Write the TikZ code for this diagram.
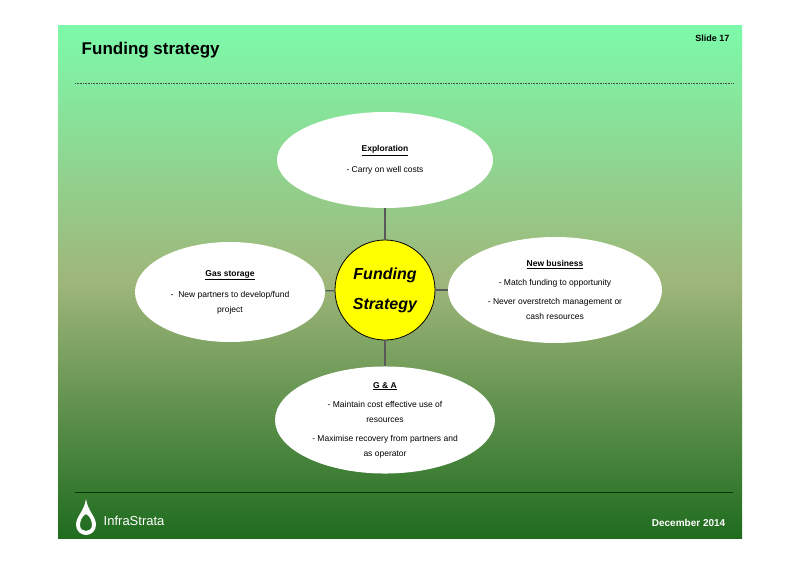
\documentclass[tikz,border=0pt]{standalone}
\usepackage{fontspec}
\setmainfont{Liberation Sans}
\usetikzlibrary{positioning,shapes.geometric}
\definecolor{slidetop}{HTML}{7CFAAA}
\definecolor{slidemid}{HTML}{9FB67A}
\definecolor{slidebot}{HTML}{1F6C1E}
\definecolor{fundyellow}{HTML}{FFFF00}
\begin{document}
\begin{tikzpicture}[x=1pt,y=-1pt,thick,
      topic node/.style={ellipse,fill=white,draw=none,align=center,inner sep=0pt,
        font=\fontsize{8.5}{17}\selectfont},
      centre node/.style={circle,draw,fill=fundyellow,minimum size=100pt,align=center,
        font=\fontsize{16}{30}\selectfont\bfseries\itshape},
      link/.style={draw=black!65,line width=1.2pt}]
    \useasboundingbox (0,0) rectangle (800,565);
    \fill[white] (0,0) rectangle (800,565);
    % slide background
    \shade[top color=slidetop,bottom color=slidebot,middle color=slidemid] (58,25) rectangle (742,538);
    \node[anchor=west,font=\fontsize{17}{19}\selectfont\bfseries] (title) at (78,50) {Funding strategy};
    \node[anchor=east,font=\fontsize{9}{10}\selectfont\bfseries] (slide) at (733,38) {Slide 17};
    \draw[densely dotted,line width=0.6pt,black!70] (75,83) -- (733,83);

    % topics
    \node[centre node] (c) at (385,290) {Funding\\Strategy};
    \node[topic node,minimum width=216pt,minimum height=96pt] (1) at (385,160)
      {\underline{\bfseries Exploration}\\[4pt]- Carry on well costs};
    \node[topic node,minimum width=190pt,minimum height=100pt] (2) at (230,292)
      {\underline{\bfseries Gas storage}\\[4pt]- \ New partners to develop/fund\\[-2pt]project};
    \node[topic node,minimum width=214pt,minimum height=106pt] (3) at (555,290)
      {\underline{\bfseries New business}\\[2pt]- Match funding to opportunity\\[2pt]- Never overstretch management or\\[-2pt]cash resources};
    \node[topic node,minimum width=220pt,minimum height=96pt] (4) at (385,420)
      {\underline{\bfseries G \& A}\\[2pt]- Maintain cost effective use of\\[-2pt]resources\\[2pt]- Maximise recovery from partners and\\[-2pt]as operator};

    \path[link]
        (c) edge (1)
        (c) edge (2)
        (c) edge (3)
        (c) edge (4)
    ;

    % footer
    \draw[line width=0.8pt,black!80!green] (75,492) -- (733,492);
    \fill[white,even odd rule] (86,499) .. controls (88,512) and (96,516) .. (96,525)
      .. controls (96,531) and (91,535) .. (86,535) .. controls (81,535) and (76,531) .. (76,525)
      .. controls (76,516) and (84,512) .. (86,499)
      (86,514) .. controls (90,516) and (92,521) .. (92,525) .. controls (92,529) and (89,531) .. (86,531)
      .. controls (83,531) and (80,529) .. (80,525) .. controls (80,521) and (82,516) .. (86,514);
    \node[anchor=west,text=white,font=\fontsize{13}{15}\selectfont] (logo) at (100,521) {InfraStrata};
    \node[anchor=east,text=white,font=\fontsize{10}{12}\selectfont\bfseries] (date) at (729,523) {December 2014};
\end{tikzpicture}
\end{document}
